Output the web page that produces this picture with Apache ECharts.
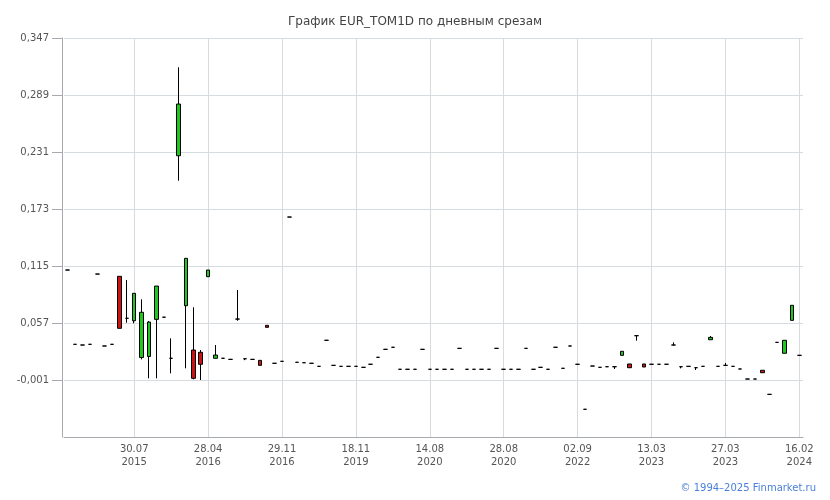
<!DOCTYPE html>
<html>
<head>
<meta charset="utf-8">
<script src="https://cdn.jsdelivr.net/npm/echarts@6/dist/echarts.min.js"></script>
<style>html,body{margin:0;padding:0;background:#fff}#c{width:830px;height:500px}</style>
</head>
<body>
<div id="c"></div>
<script>
// Axis labels (shown every 10th category)
const labelIndex = [9, 19, 29, 39, 49, 59, 69, 79, 89, 99];
const labelText = ['30.07\n2015', '28.04\n2016', '29.11\n2016', '18.11\n2019', '14.08\n2020',
                   '28.08\n2020', '02.09\n2022', '13.03\n2023', '27.03\n2023', '16.02\n2024'];
const yTicks = [-0.059, -0.001, 0.057, 0.115, 0.173, 0.231, 0.289, 0.347];

// Candles: [open, close, low, high]
const candles = [
  [0.1109,0.1109,0.1109,0.1109],
  [0.0353,0.0353,0.0353,0.0353],
  [0.0346,0.0346,0.0346,0.0346],
  [0.0353,0.0353,0.0353,0.0353],
  [0.1068,0.1068,0.1068,0.1068],
  [0.0336,0.0336,0.0336,0.0336],
  [0.0353,0.0353,0.0353,0.0353],
  [0.1045,0.0516,0.0516,0.1045],
  [0.0618,0.0618,0.0573,0.1007],
  [0.0593,0.0872,0.0567,0.0872],
  [0.0219,0.0679,0.0200,0.0811],
  [0.0229,0.0580,0.0007,0.0590],
  [0.0607,0.0946,0.0007,0.0946],
  [0.0629,0.0629,0.0629,0.0629],
  [0.0211,0.0211,0.0058,0.0414],
  [0.2272,0.2798,0.2018,0.3172],
  [0.0746,0.1228,0.0109,0.1228],
  [0.0295,0.0007,-0.0003,0.0730],
  [0.0272,0.0150,-0.0010,0.0295],
  [0.1041,0.1109,0.1041,0.1109],
  [0.0211,0.0244,0.0211,0.0346],
  [0.0211,0.0211,0.0211,0.0211],
  [0.0200,0.0200,0.0200,0.0200],
  [0.0610,0.0610,0.0593,0.0906],
  [0.0206,0.0206,0.0192,0.0206],
  [0.0200,0.0200,0.0200,0.0200],
  [0.0190,0.0139,0.0139,0.0190],
  [0.0546,0.0526,0.0526,0.0546],
  [0.0160,0.0160,0.0160,0.0160],
  [0.0180,0.0180,0.0180,0.0180],
  [0.1648,0.1648,0.1648,0.1648],
  [0.0170,0.0170,0.0170,0.0170],
  [0.0166,0.0166,0.0166,0.0166],
  [0.0160,0.0160,0.0160,0.0160],
  [0.0129,0.0129,0.0129,0.0129],
  [0.0394,0.0394,0.0394,0.0394],
  [0.0139,0.0139,0.0139,0.0139],
  [0.0129,0.0129,0.0129,0.0129],
  [0.0129,0.0129,0.0129,0.0129],
  [0.0129,0.0129,0.0129,0.0129],
  [0.0119,0.0119,0.0119,0.0119],
  [0.0150,0.0150,0.0150,0.0150],
  [0.0221,0.0221,0.0221,0.0221],
  [0.0302,0.0302,0.0302,0.0302],
  [0.0323,0.0323,0.0323,0.0323],
  [0.0099,0.0099,0.0099,0.0099],
  [0.0099,0.0099,0.0099,0.0099],
  [0.0099,0.0099,0.0099,0.0099],
  [0.0302,0.0302,0.0302,0.0302],
  [0.0099,0.0099,0.0099,0.0099],
  [0.0099,0.0099,0.0099,0.0099],
  [0.0099,0.0099,0.0099,0.0099],
  [0.0099,0.0099,0.0099,0.0099],
  [0.0312,0.0312,0.0312,0.0312],
  [0.0099,0.0099,0.0099,0.0099],
  [0.0099,0.0099,0.0099,0.0099],
  [0.0099,0.0099,0.0099,0.0099],
  [0.0099,0.0099,0.0099,0.0099],
  [0.0312,0.0312,0.0312,0.0312],
  [0.0099,0.0099,0.0099,0.0099],
  [0.0099,0.0099,0.0099,0.0099],
  [0.0099,0.0099,0.0099,0.0099],
  [0.0312,0.0312,0.0312,0.0312],
  [0.0099,0.0099,0.0099,0.0099],
  [0.0119,0.0119,0.0119,0.0119],
  [0.0099,0.0099,0.0099,0.0099],
  [0.0323,0.0323,0.0323,0.0323],
  [0.0109,0.0109,0.0109,0.0109],
  [0.0336,0.0336,0.0336,0.0336],
  [0.0150,0.0150,0.0150,0.0150],
  [-0.0308,-0.0308,-0.0308,-0.0308],
  [0.0132,0.0132,0.0132,0.0132],
  [0.0119,0.0119,0.0119,0.0119],
  [0.0125,0.0125,0.0125,0.0125],
  [0.0125,0.0125,0.0102,0.0125],
  [0.0241,0.0282,0.0241,0.0282],
  [0.0153,0.0115,0.0115,0.0153],
  [0.0441,0.0441,0.0390,0.0441],
  [0.0153,0.0122,0.0122,0.0153],
  [0.0150,0.0150,0.0150,0.0150],
  [0.0150,0.0150,0.0150,0.0150],
  [0.0150,0.0150,0.0150,0.0150],
  [0.0346,0.0346,0.0346,0.0373],
  [0.0125,0.0125,0.0108,0.0125],
  [0.0129,0.0129,0.0129,0.0129],
  [0.0115,0.0115,0.0092,0.0115],
  [0.0129,0.0129,0.0129,0.0129],
  [0.0400,0.0424,0.0400,0.0438],
  [0.0129,0.0129,0.0129,0.0129],
  [0.0139,0.0139,0.0139,0.0163],
  [0.0129,0.0129,0.0129,0.0129],
  [0.0102,0.0102,0.0102,0.0102],
  [0.0000,0.0000,0.0000,0.0000],
  [0.0000,0.0000,0.0000,0.0000],
  [0.0089,0.0064,0.0064,0.0089],
  [-0.0156,-0.0156,-0.0156,-0.0156],
  [0.0373,0.0373,0.0373,0.0373],
  [0.0262,0.0394,0.0262,0.0394],
  [0.0597,0.0750,0.0597,0.0750],
  [0.0241,0.0241,0.0241,0.0241]
];

const categories = candles.map(function (_, i) {
  const k = labelIndex.indexOf(i);
  return k >= 0 ? labelText[k] : ' '.repeat(i + 1);
});
const isLabel = function (idx) { return labelIndex.indexOf(idx) >= 0; };

const FONT = 'DejaVu Sans';
const chart = echarts.init(document.getElementById('c'), null, {renderer: 'canvas'});
chart.setOption({
  animation: false,
  backgroundColor: '#ffffff',
  textStyle: {fontFamily: FONT},
  title: [{
    text: 'График EUR_TOM1D по дневным срезам',
    left: 'center', top: 11,
    textStyle: {fontFamily: FONT, fontSize: 12, fontWeight: 'normal', color: '#444'}
  }, {
    text: '© 1994–2025 Finmarket.ru',
    right: 9, bottom: 2,
    textStyle: {fontFamily: FONT, fontSize: 10, fontWeight: 'normal', color: '#4a7fd8'}
  }],
  grid: {left: 64, right: 27, top: 38, bottom: 63},
  xAxis: {
    type: 'category',
    data: categories,
    boundaryGap: true,
    axisLine: {show: true, onZero: false, lineStyle: {color: '#a6a9ae', width: 1}},
    axisTick: {show: false, alignWithLabel: true, interval: isLabel},
    axisLabel: {
      interval: isLabel,
      color: '#555',
      fontFamily: FONT,
      fontSize: 10,
      lineHeight: 13,
      margin: 6,
      formatter: function (v) { return v.trim() === '' ? '' : v; }
    },
    splitLine: {show: true, alignWithLabel: true, interval: isLabel, lineStyle: {color: '#d6dbdf', width: 1}}
  },
  yAxis: {
    type: 'value',
    min: yTicks[0],
    max: yTicks[yTicks.length - 1],
    interval: yTicks[1] - yTicks[0],
    offset: 2,
    axisLine: {show: true, lineStyle: {color: '#a6a9ae', width: 1}},
    axisTick: {show: true, length: 10, lineStyle: {color: '#a6a9ae'}},
    axisLabel: {
      color: '#555',
      fontFamily: FONT,
      fontSize: 10,
      margin: 13,
      showMinLabel: false,
      formatter: function (v) { return v.toFixed(3).replace('.', ','); }
    },
    splitLine: {show: true, lineStyle: {color: '#d6dbdf', width: 1}}
  },
  series: [{
    type: 'candlestick',
    data: candles,
    barWidth: 4,
    itemStyle: {
      color: '#1ec81e',
      color0: '#cc1414',
      borderColor: '#000',
      borderColor0: '#000',
      borderWidth: 1
    }
  }]
});
</script>
</body>
</html>
